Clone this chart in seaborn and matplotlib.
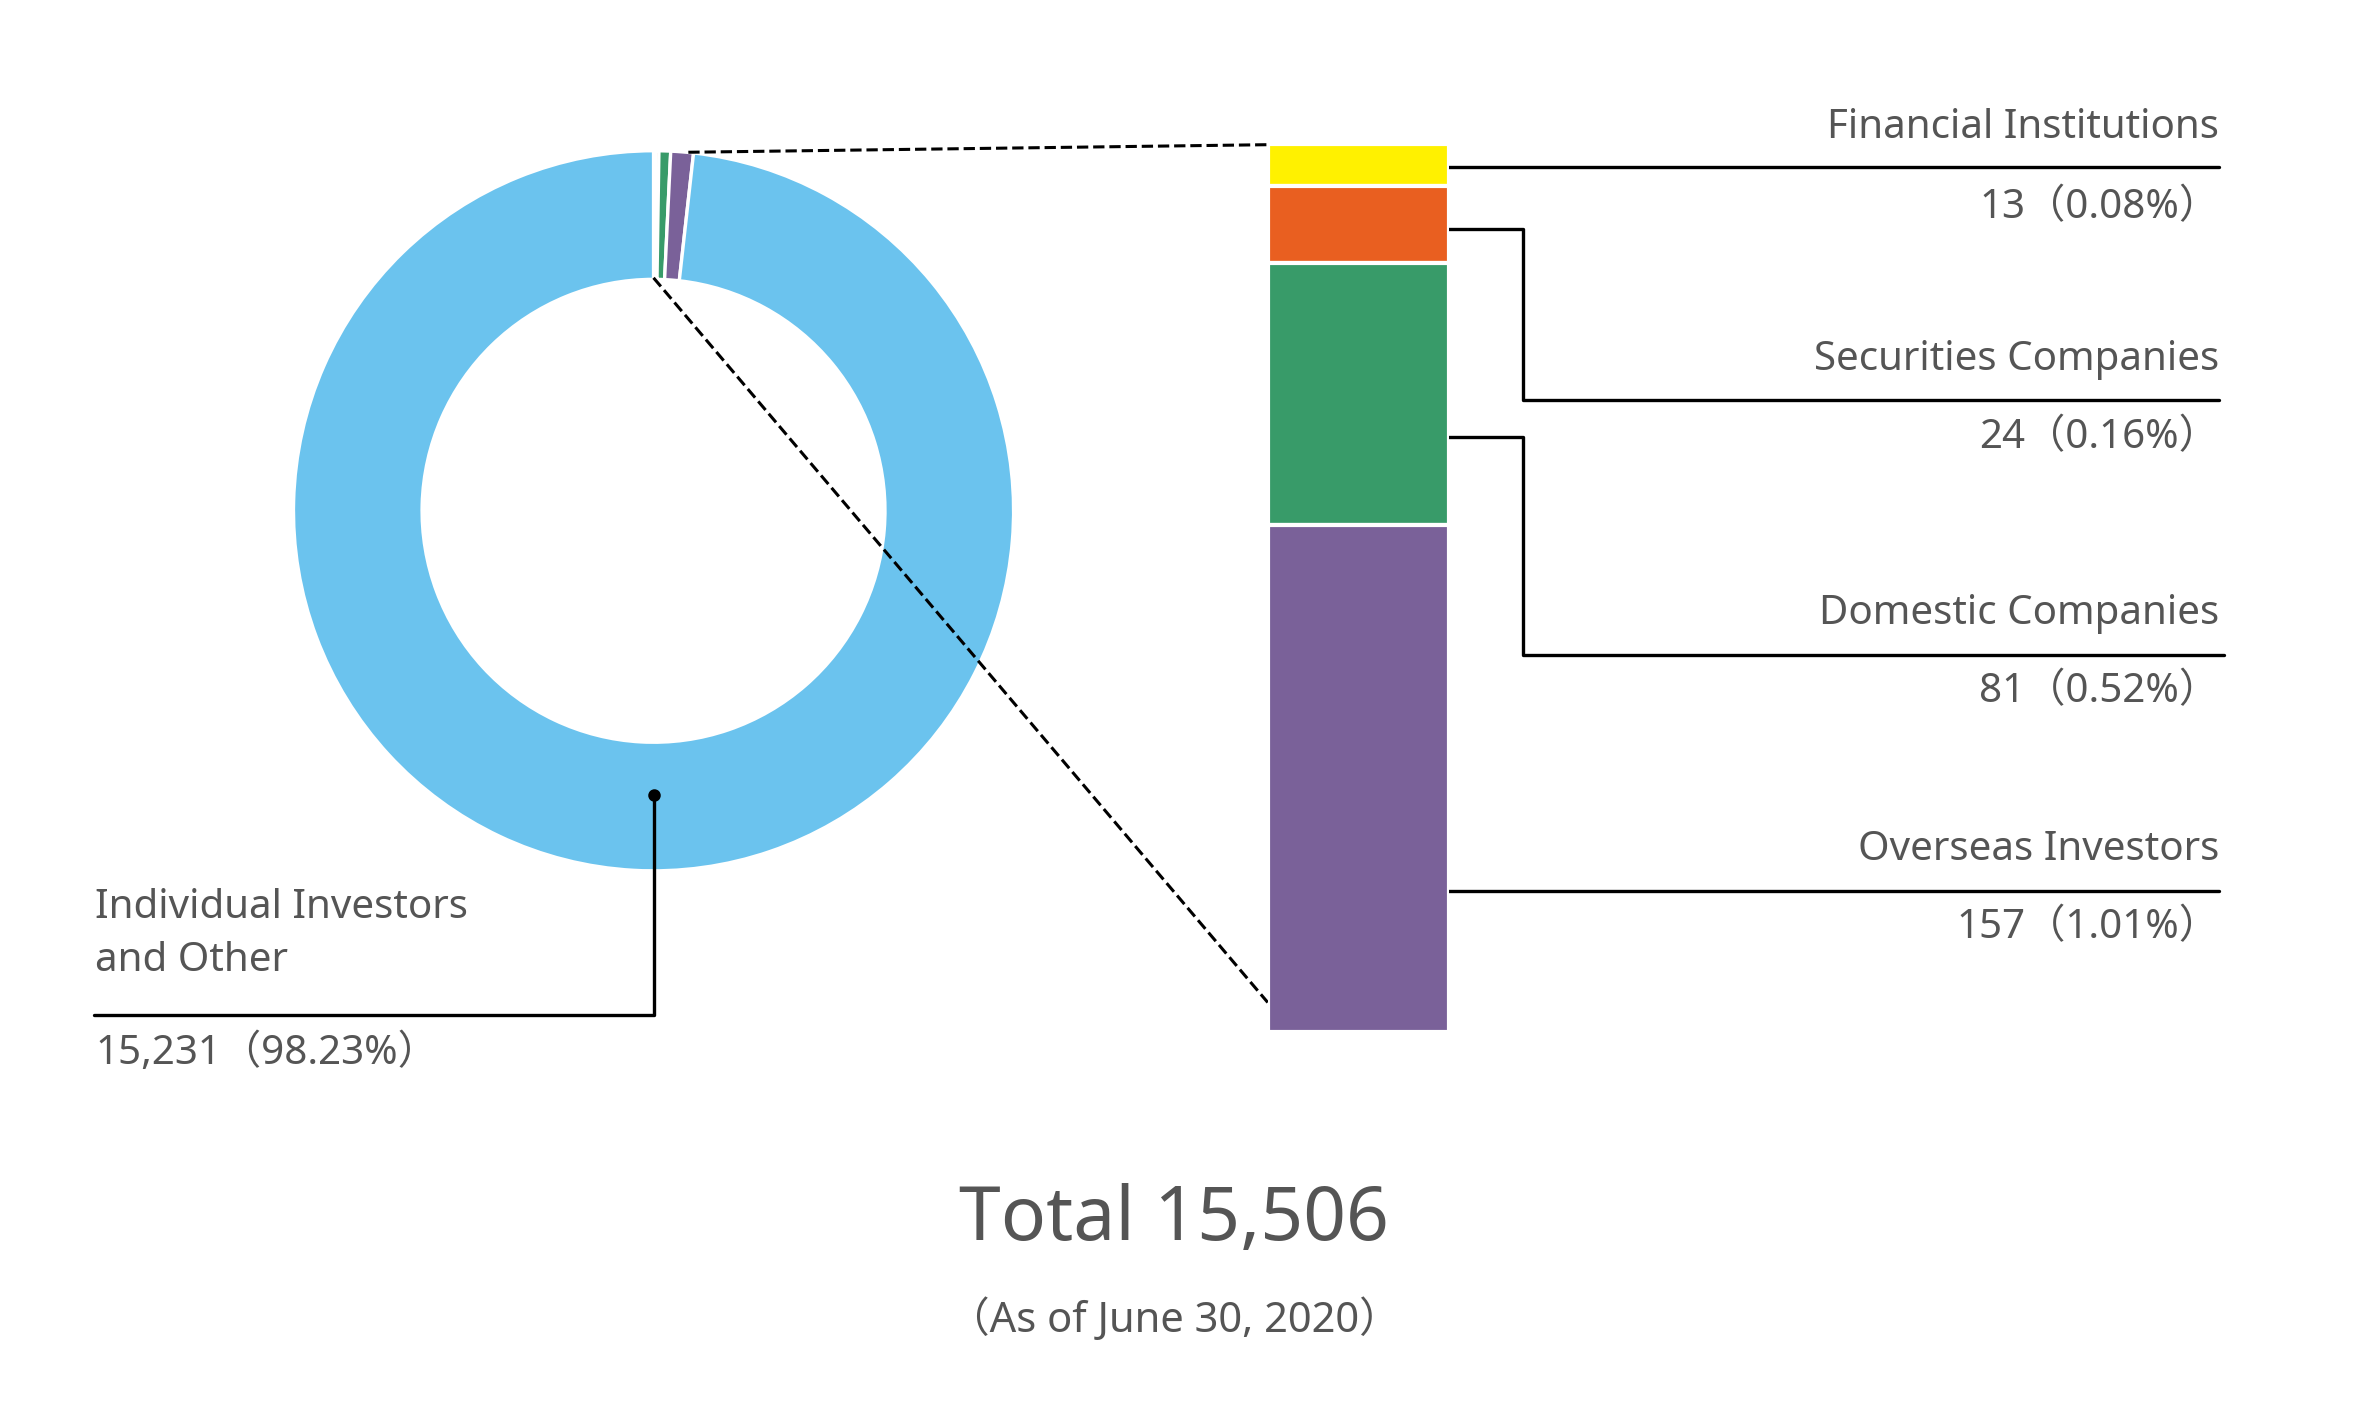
import matplotlib
matplotlib.use("Agg")
import matplotlib.pyplot as plt
import seaborn as sns

categories = ["Financial Institutions", "Securities Companies", "Domestic Companies", "Overseas Investors", "Individual Investors\nand Other"]
values = [13, 24, 81, 157, 15231]
value_labels = ["13（0.08%）", "24（0.16%）", "81（0.52%）", "157（1.01%）", "15,231（98.23%）"]
colors = ["#FFF100", "#E95F20", "#389B69", "#7A6199", "#6BC3EE"]
total_label = "Total 15,506"
date_label = "（As of June 30, 2020）"

sns.set_theme(style="white")
plt.rcParams["font.family"] = ["Noto Sans", "Noto Sans CJK JP"]
TXT = "#555555"

W, H = 1560, 940
fig = plt.figure(figsize=(11.8, 7.12), dpi=200)
ax = fig.add_axes([0, 0, 1, 1])
Y = lambda y: H - y

# donut
ax.pie(values, colors=colors, startangle=90, counterclock=False,
       radius=238, center=(432, Y(337)),
       wedgeprops=dict(width=85, edgecolor="white", linewidth=1.2), frame=True)
ax.set_xlim(0, W); ax.set_ylim(0, H); ax.set_aspect("equal")
ax.axis("off")

# stacked bar in its own axes
bx = fig.add_axes([838 / W, 1 - 681 / H, 120 / W, 586 / H])
small = values[:4]
bottom = 0
for v, c in zip(small, colors[:4]):
    bx.bar(0, v, bottom=bottom, width=1, color=c, edgecolor="white", linewidth=1.5)
    bottom += v
bx.set_xlim(-0.5, 0.5); bx.set_ylim(sum(small), 0); bx.axis("off")

# dashed connectors
ax.plot([455, 838], [Y(100), Y(95)], ls="--", color="black", lw=1.1)
ax.plot([432, 838], [Y(183), Y(662)], ls="--", color="black", lw=1.1)

# leaders
leaders = [
    ([905, 1467], [110, 110]),
    ([905, 1007, 1007, 1467], [151, 151, 264, 264]),
    ([907, 1007, 1007, 1470], [288, 288, 432, 432]),
    ([905, 1467], [588, 588]),
    ([432, 432, 62], [525, 670, 670]),
]
for xs, ys in leaders:
    ax.plot(xs, [Y(v) for v in ys], color="black", lw=1.2)
    ax.plot(xs[0], Y(ys[0]), "o", color="black", ms=3.5)

label_y = [84, 237, 405, 561]
val_y = [137, 289, 457, 613]
for i in range(4):
    ax.text(1467, Y(label_y[i]), categories[i], ha="right", va="center", fontsize=14.5, color=TXT)
    ax.text(1467, Y(val_y[i]), value_labels[i], ha="right", va="center", fontsize=14.5, color=TXT)
ax.text(63, Y(617), categories[4], ha="left", va="center", fontsize=14.5, color=TXT, linespacing=1.45)
ax.text(63, Y(696), value_labels[4], ha="left", va="center", fontsize=14.5, color=TXT)

ax.text(776, Y(806), total_label, ha="center", va="center", fontsize=27, color=TXT)
ax.text(776, Y(872), date_label, ha="center", va="center", fontsize=15, color=TXT)

fig.savefig("out.png", dpi=200, facecolor="white")
